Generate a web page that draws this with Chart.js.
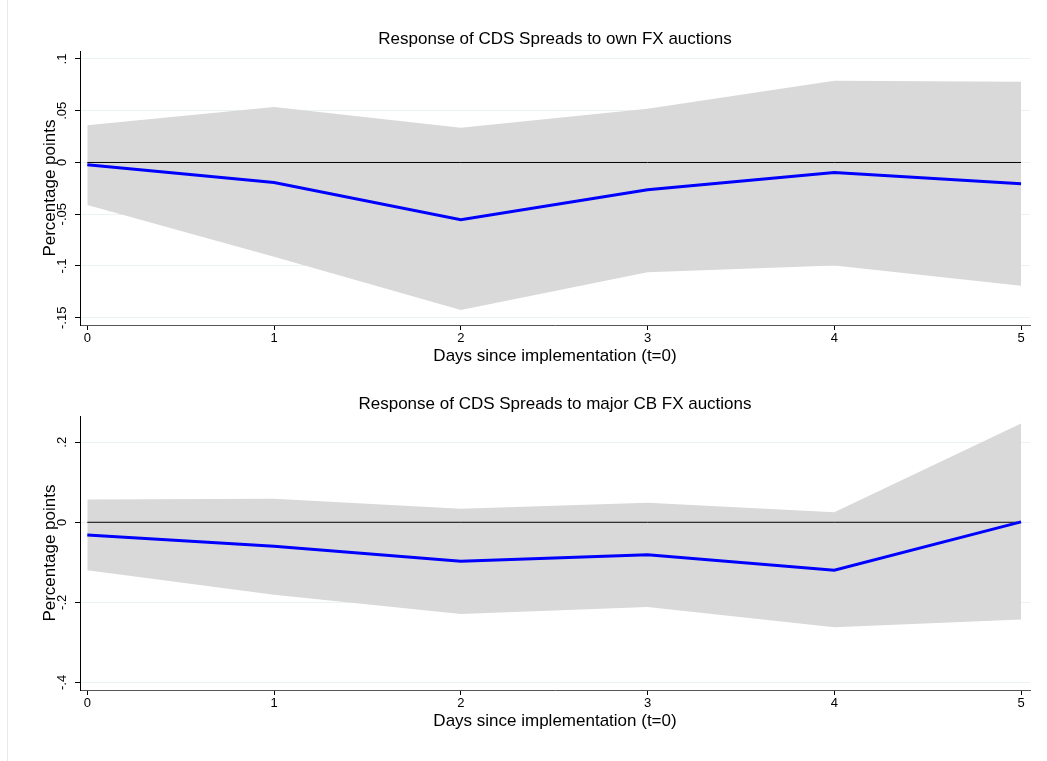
<!DOCTYPE html>
<html>
<head>
<meta charset="utf-8">
<script src="https://cdn.jsdelivr.net/npm/chart.js@4"></script>
<style>
body { margin: 0; background: #fff; width: 1047px; height: 761px; position: relative; overflow: hidden; }
.frame { position: absolute; left: 7px; top: 0; width: 1px; height: 761px; background: #e8e8e8; }
.panel { position: absolute; left: 0; width: 1047px; height: 368px; }
</style>
</head>
<body>
<div class="frame"></div>
<div class="panel" style="top:0"><canvas id="own-chart" width="1047" height="368"></canvas></div>
<div class="panel" style="top:365px"><canvas id="major-chart" width="1047" height="368"></canvas></div>
<script>
var days = [0, 1, 2, 3, 4, 5];
var dayLabels = ['0', '1', '2', '3', '4', '5'];
var zeroLine = [0, 0, 0, 0, 0, 0];

// panel 1: own FX auctions
var ownTitle = 'Response of CDS Spreads to own FX auctions';
var ownIrf = [-0.0022, -0.0193, -0.0554, -0.0264, -0.0097, -0.0206];
var ownUpper = [0.036, 0.0536, 0.0335, 0.052, 0.079, 0.078];
var ownLower = [-0.041, -0.091, -0.1425, -0.106, -0.0996, -0.119];
var ownTicks = [0.1, 0.05, 0, -0.05, -0.1, -0.15];
var ownTickLabels = ['.1', '.05', '0', '-.05', '-.1', '-.15'];

// panel 2: major CB FX auctions
var majorTitle = 'Response of CDS Spreads to major CB FX auctions';
var majorIrf = [-0.0315, -0.06, -0.0975, -0.081, -0.12, 0.001];
var majorUpper = [0.057, 0.059, 0.034, 0.0485, 0.025, 0.247];
var majorLower = [-0.12, -0.181, -0.229, -0.2115, -0.262, -0.243];
var majorTicks = [0.2, 0, -0.2, -0.4];
var majorTickLabels = ['.2', '0', '-.2', '-.4'];

var xTitle = 'Days since implementation (t=0)';
var yTitle = 'Percentage points';

Chart.defaults.font.family = '"Liberation Sans", Arial, sans-serif';
Chart.defaults.color = '#000';

function points(values) {
    return days.map((d, i) => ({ x: d, y: values[i] }));
}

function labelFor(v, ticks, labels) {
    for (var i = 0; i < ticks.length; i++) {
        if (Math.abs(ticks[i] - v) < 1e-9) return labels[i];
    }
    return '';
}

function makeChart(id, title, irf, upper, lower, ticks, tickLabels, yMin, yMax, tickPad) {
    var ctx = document.getElementById(id).getContext('2d');
    return new Chart(ctx, {
        type: 'line',
        data: {
            datasets: [
                { data: points(irf), borderColor: '#0000ff', borderWidth: 3, pointRadius: 0, fill: false, tension: 0 },
                { data: points(zeroLine), borderColor: '#000', borderWidth: 1, pointRadius: 0, fill: false },
                { data: points(upper), borderColor: 'rgba(0,0,0,0)', borderWidth: 0, backgroundColor: '#d9d9d9', pointRadius: 0, fill: '+1' },
                { data: points(lower), borderColor: 'rgba(0,0,0,0)', borderWidth: 0, pointRadius: 0, fill: false }
            ]
        },
        options: {
            responsive: false,
            animation: false,
            layout: { padding: { left: 0, right: 17, top: 0, bottom: 0 } },
            plugins: {
                legend: { display: false },
                tooltip: { enabled: false },
                title: {
                    display: true, text: title, fullSize: false, color: '#000',
                    font: { size: 17, weight: 'normal' },
                    padding: { top: 29.5, bottom: 1.3 }
                }
            },
            scales: {
                x: {
                    type: 'linear', min: -0.039, max: 5.048,
                    afterBuildTicks: (s) => { s.ticks = days.map(v => ({ value: v })); },
                    afterFit: (s) => { s.height = 43; },
                    ticks: {
                        callback: (v) => labelFor(v, days, dayLabels),
                        font: { size: 13 }, padding: 1, maxRotation: 0, autoSkip: false
                    },
                    grid: { drawOnChartArea: false, tickLength: 5, tickColor: '#000' },
                    border: { color: '#555', width: 1 },
                    title: { display: true, text: xTitle, font: { size: 17 }, padding: { top: 0, bottom: 1.8 } }
                },
                y: {
                    min: yMin, max: yMax,
                    afterBuildTicks: (s) => { s.ticks = ticks.map(v => ({ value: v })); },
                    afterFit: (s) => { s.width = 80; },
                    ticks: {
                        callback: (v) => labelFor(v, ticks, tickLabels),
                        minRotation: 90, maxRotation: 90, crossAlign: 'center',
                        padding: tickPad, font: { size: 13 }, autoSkip: false
                    },
                    grid: { color: 'rgb(234,242,243)', tickLength: 5, tickColor: '#000' },
                    border: { color: '#000', width: 1 },
                    title: { display: true, text: yTitle, font: { size: 17 }, padding: { top: 39.8, bottom: 0 } }
                }
            }
        }
    });
}

var ownChart = makeChart('own-chart', ownTitle, ownIrf, ownUpper, ownLower, ownTicks, ownTickLabels, -0.157, 0.1075, 1.3);
var majorChart = makeChart('major-chart', majorTitle, majorIrf, majorUpper, majorLower, majorTicks, majorTickLabels, -0.419, 0.265, 4.9);
</script>
</body>
</html>
